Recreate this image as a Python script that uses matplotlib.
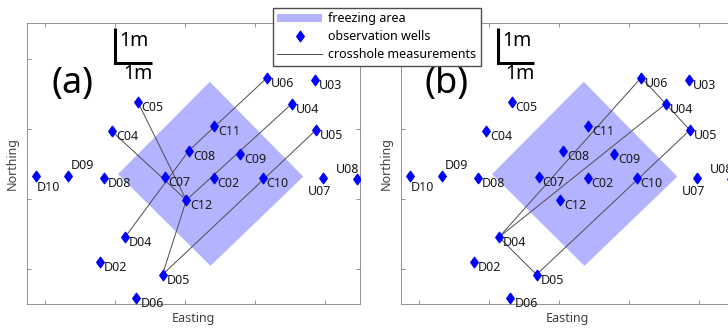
import numpy as np
import matplotlib
matplotlib.use("Agg")
import matplotlib.pyplot as plt
from matplotlib.patches import Patch
from matplotlib.lines import Line2D
from matplotlib.path import Path

plt.rcParams["font.family"] = ["Noto Sans", "DejaVu Sans"]

# well positions [m]
wells = ["D10", "D09", "D08", "C07", "C02", "C10", "U07", "U08",
         "C05", "C04", "C11", "C08", "C09", "C12",
         "D04", "D02", "D05", "D06", "U06", "U03", "U04", "U05"]
east = [-4.24, -3.33, -2.31, -0.58, 0.82, 2.22, 3.95, 4.92,
        -1.35, -2.09, 0.84, 0.11, 1.57, 0.04,
        -1.71, -2.43, -0.64, -1.39, 2.35, 3.71, 3.05, 3.74]
north = [0.66, 0.67, 0.61, 0.63, 0.59, 0.61, 0.59, 0.57,
         2.78, 1.94, 2.10, 1.38, 1.28, -0.03,
         -1.09, -1.80, -2.16, -2.82, 3.47, 3.41, 2.72, 1.97]

# freezing area corners
freeze_e = [0.71, 3.38, 0.73, -1.91]
freeze_n = [3.35, 0.64, -1.91, 0.71]

# crosshole pairs
pairs_a = [("C05", "C12"), ("C04", "C12"), ("U04", "C12"), ("C12", "D05"),
           ("D05", "U05"), ("D04", "C08"), ("C08", "U06")]
pairs_b = [("D04", "U06"), ("D04", "U04"), ("D04", "D05"), ("D05", "U05"),
           ("U06", "U04"), ("U04", "U05")]

# label offsets (points) for wells not labelled right-below
special = {"D10": (0, -8.5, "left"), "D09": (2, 7, "left"),
           "U07": (-2.4, -9.6, "center"), "U08": (1.2, 7.2, "right")}

pos = {w: (e, n) for w, e, n in zip(wells, east, north)}
freeze_col = "#b3b3ff"
line_col = "0.3"
diamond = Path([(0, 1), (0.72, 0), (0, -1), (-0.72, 0), (0, 1)],
               [Path.MOVETO, Path.LINETO, Path.LINETO, Path.LINETO, Path.CLOSEPOLY])


def draw_panel(ax, pairs, tag, bar_x):
    ax.fill(freeze_e, freeze_n, color=freeze_col, lw=0, zorder=1)
    for a, b in pairs:
        ax.plot([pos[a][0], pos[b][0]], [pos[a][1], pos[b][1]],
                color=line_col, lw=0.7, zorder=2)
    ax.plot(east, north, ls="none", marker=diamond, ms=7.5, color="blue",
            mec="blue", zorder=3)
    for w, e, n in zip(wells, east, north):
        dx, dy, ha = special.get(w, (2.9, -4.0, "left"))
        ax.annotate(w, (e, n), xytext=(dx, dy), textcoords="offset points",
                    ha=ha, va="center", fontsize=9, color="#1a1a1a", zorder=4)
    # scale bar
    ax.plot([bar_x, bar_x, bar_x + 1.05], [4.9, 3.9, 3.9], color="black",
            lw=2.2, solid_joinstyle="miter", solid_capstyle="butt", zorder=4)
    ax.text(bar_x + 0.13, 4.52, "1m", fontsize=14, ha="left", va="center")
    ax.text(bar_x + 0.65, 3.56, "1m", fontsize=14, ha="center", va="center")
    ax.text(-3.22, 3.3, tag, fontsize=26, ha="center", va="center")

    ax.set_xlim(-4.51, 5.0)
    ax.set_ylim(-3.0, 5.03)
    ax.set_xticks([-4, -2, 0, 2, 4])
    ax.set_yticks([-2, 0, 2, 4])
    ax.tick_params(direction="in", length=3, top=True, right=True,
                   labelbottom=False, labelleft=False, color="0.5", width=0.6)
    for sp in ax.spines.values():
        sp.set_color("0.5")
        sp.set_linewidth(0.6)
    ax.set_xlabel("Easting", fontsize=9, color="#404040", labelpad=6)
    ax.set_ylabel("Northing", fontsize=9, color="#404040", labelpad=6)


fig = plt.figure(figsize=(7.28, 3.33), dpi=100)
ax1 = fig.add_axes([27 / 728, 29 / 333, 333 / 728, 281 / 333])
ax2 = fig.add_axes([401 / 728, 29 / 333, 333 / 728, 281 / 333])
draw_panel(ax1, pairs_a, "(a)", -2.0)
draw_panel(ax2, pairs_b, "(b)", -1.75)

handles = [Patch(facecolor=freeze_col, edgecolor="none"),
           Line2D([], [], ls="none", marker=diamond, ms=7.5, color="blue"),
           Line2D([], [], color=line_col, lw=0.7)]
labels = ["freezing area", "observation wells", "crosshole measurements"]
fig.legend(handles, labels, loc="upper left", bbox_to_anchor=(273 / 728, 1 - 8 / 333),
           frameon=True, fancybox=False, edgecolor="0.3", framealpha=1,
           fontsize=9, handlelength=3.6, handletextpad=0.45, borderpad=0.35,
           labelspacing=0.4, borderaxespad=0)

fig.savefig("out.png", dpi=100)
